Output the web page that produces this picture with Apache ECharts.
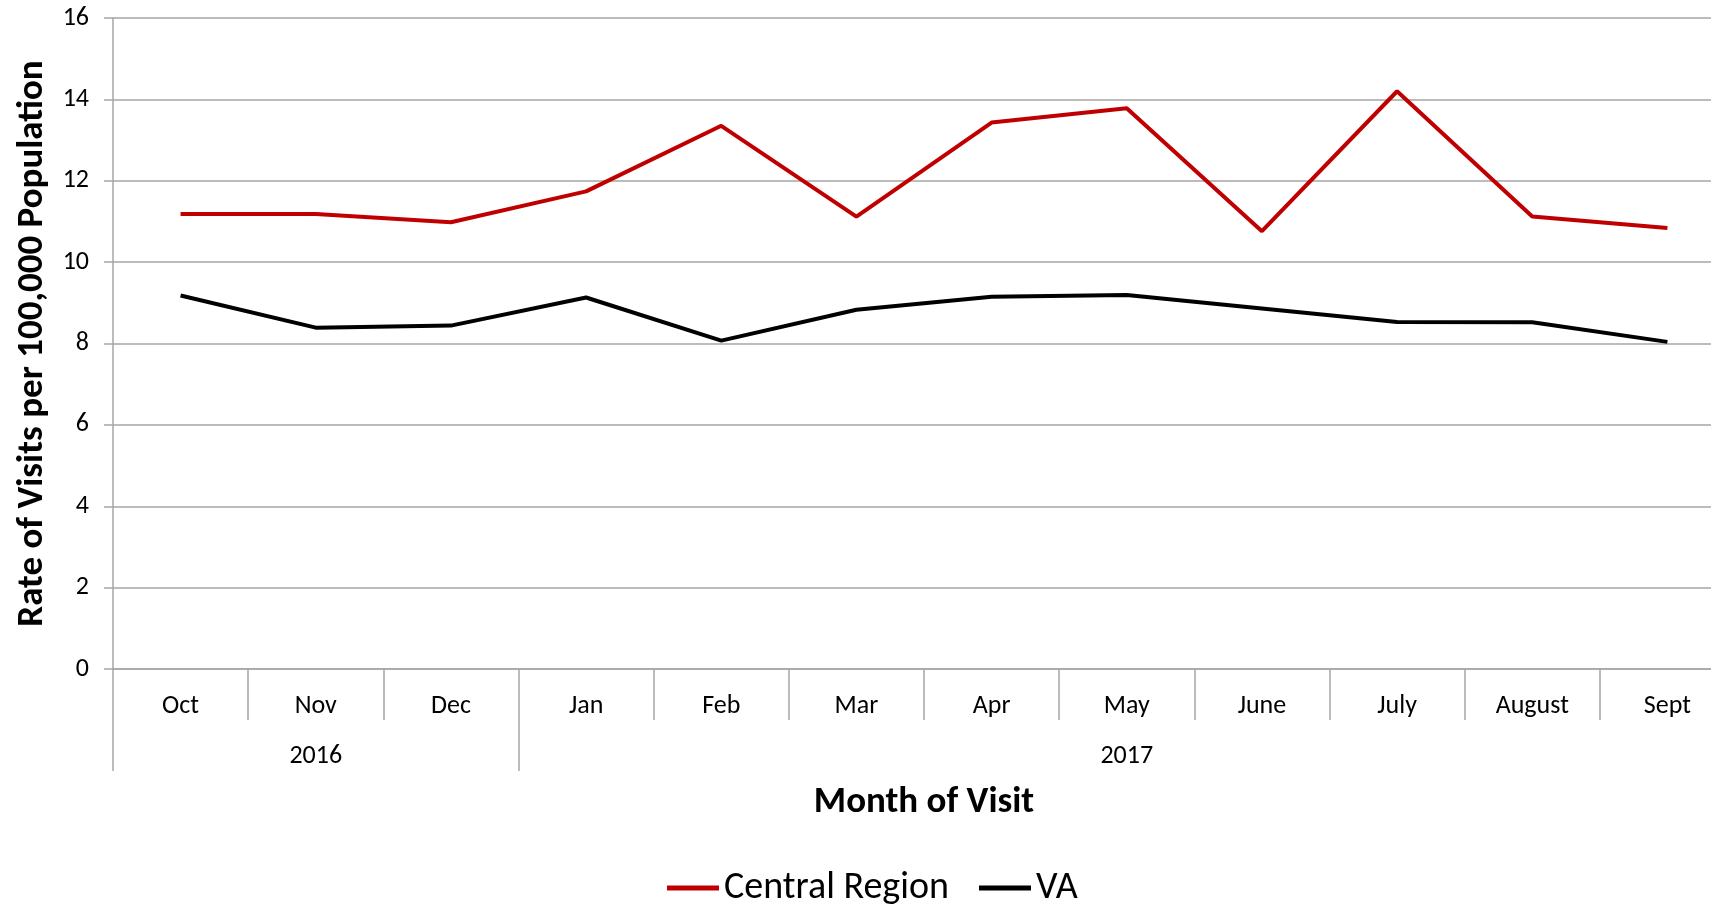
<!DOCTYPE html>
<html>
<head>
<meta charset="utf-8">
<style>
  html, body { margin: 0; padding: 0; background: #fff; }
  #chart { width: 1711px; height: 904px; }
</style>
<script src="https://cdn.jsdelivr.net/npm/echarts@6/dist/echarts.min.js"></script>
</head>
<body>
<div id="chart"></div>
<script>
// * data
let months = ['Oct', 'Nov', 'Dec', 'Jan', 'Feb', 'Mar', 'Apr', 'May', 'June', 'July', 'August', 'Sept'];
let years = ['', '2016', '', '', '', '', '', '2017', '', '', '', ''];
let centralRegion = [11.18, 11.18, 10.98, 11.74, 13.35, 11.12, 13.43, 13.78, 10.76, 14.2, 11.12, 10.84];
let va = [9.18, 8.39, 8.44, 9.13, 8.07, 8.83, 9.15, 9.19, 8.86, 8.53, 8.52, 8.04];
let yTicks = [0, 2, 4, 6, 8, 10, 12, 14, 16];

let font = "Carlito, 'Liberation Sans Narrow', 'Open Sans', sans-serif";
let gray = '#a6a6a6';

let option = {
    animation: false,
    textStyle: { fontFamily: font },
    // plot runs a little past the right edge, as in the source
    grid: { left: 113, width: 1622, top: 18, bottom: 235, containLabel: false, outerBoundsMode: 'none' },
    legend: {
        top: 864,
        left: 662,
        itemWidth: 52,
        itemHeight: 5,
        itemGap: 30,
        icon: 'rect',
        textStyle: { fontFamily: font, fontSize: 38, color: '#000' },
        data: ['Central Region', 'VA']
    },
    xAxis: [
        {
            type: 'category',
            data: months,
            position: 'bottom',
            boundaryGap: true,
            name: 'Month of Visit',
            nameLocation: 'middle',
            nameGap: 115,
            nameTextStyle: { fontFamily: font, fontSize: 37, fontWeight: 'bold', color: '#000' },
            axisLine: { show: true, lineStyle: { color: gray, width: 1.5 } },
            axisTick: { show: true, length: 51, interval: 0, lineStyle: { color: gray, width: 1.5 } },
            axisLabel: { interval: 0, margin: 24, fontSize: 26, color: '#000', fontFamily: font },
            splitLine: { show: false }
        },
        {
            type: 'category',
            data: years,
            position: 'bottom',
            boundaryGap: true,
            axisLine: { show: false },
            axisTick: {
                show: true,
                length: 102,
                interval: function (index) { return index === 0 || index === 3; },
                lineStyle: { color: gray, width: 1.5 }
            },
            axisLabel: { interval: 0, margin: 74, fontSize: 26, color: '#000', fontFamily: font },
            splitLine: { show: false }
        }
    ],
    yAxis: {
        type: 'value',
        min: yTicks[0],
        max: yTicks[yTicks.length - 1],
        interval: 2,
        name: 'Rate of Visits per 100,000 Population',
        nameLocation: 'middle',
        nameGap: 60,
        nameTextStyle: { fontFamily: font, fontSize: 37, fontWeight: 'bold', color: '#000' },
        axisLine: { show: true, lineStyle: { color: gray, width: 1.5 } },
        axisTick: { show: true, length: 9, lineStyle: { color: gray, width: 1.5 } },
        axisLabel: { margin: 24, fontSize: 26, color: '#000', fontFamily: font },
        splitLine: { show: true, lineStyle: { color: gray, width: 1.5 } }
    },
    series: [
        {
            name: 'Central Region',
            type: 'line',
            xAxisIndex: 0,
            data: centralRegion,
            symbol: 'none',
            color: '#c00000',
            lineStyle: { color: '#c00000', width: 4 }
        },
        {
            name: 'VA',
            type: 'line',
            xAxisIndex: 0,
            data: va,
            symbol: 'none',
            color: '#000000',
            lineStyle: { color: '#000000', width: 4 }
        }
    ]
};

let echartsInstance = echarts.init(document.getElementById('chart'));
echartsInstance.setOption(option);
</script>
</body>
</html>
